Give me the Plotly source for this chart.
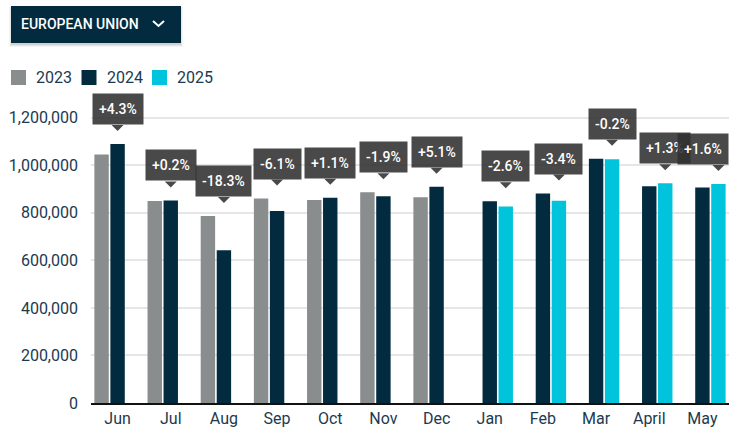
import plotly.graph_objects as go

months = ["Jun", "Jul", "Aug", "Sep", "Oct", "Nov", "Dec", "Jan", "Feb", "Mar", "April", "May"]
v2023 = [1045000, 850000, 787000, 860000, 854000, 887000, 866000, None, None, None, None, None]
v2024 = [1090000, 852000, 643000, 808000, 864000, 870000, 910000, 849000, 881000, 1028000, 912000, 907000]
v2025 = [None, None, None, None, None, None, None, 827000, 851000, 1026000, 924000, 921000]
changes = ["+4.3%", "+0.2%", "-18.3%", "-6.1%", "+1.1%", "-1.9%", "+5.1%",
           "-2.6%", "-3.4%", "-0.2%", "+1.3%", "+1.6%"]
series_names = ["2023", "2024", "2025"]
colors = ["#898d8e", "#022b40", "#00c3dc"]
title_text = "EUROPEAN UNION"

W, H = 737, 436
L, R, T, B = 91, 8, 94, 33
PW, PH = W - L - R, H - T - B
BARGAP = 0.097

def px(x):
    return (x - L) / PW

def py(y):
    return (H - B - y) / PH

TXT = "#1b3a50"
BOX = "rgba(48,48,48,0.88)"

fig = go.Figure()
for name, vals, col in zip(series_names, [v2023, v2024, v2025], colors):
    fig.add_trace(go.Bar(x=months, y=vals, name=name, marker_color=col,
                         marker_line_width=0, showlegend=False))

step = PW / len(months)
slot = step * (1 - BARGAP) / len(series_names)
shapes = []
annotations = []
for i, (m, a, b, c, lab) in enumerate(zip(months, v2023, v2024, v2025, changes)):
    top = max(v for v in (a, b, c) if v is not None)
    dx = slot if c is not None else 0  # label sits over the latest year's bar
    shapes.append(dict(type="path", xref="x", yref="y", xsizemode="pixel", ysizemode="pixel",
                       xanchor=m, yanchor=top,
                       path=f"M{dx-6:.2f},19 L{dx+6:.2f},19 L{dx:.2f},13 Z",
                       fillcolor=BOX, line=dict(width=0), layer="above"))
    ann = dict(x=m, y=top, xref="x", yref="y", text=lab, showarrow=False,
               yanchor="bottom", yshift=19, xshift=dx, bgcolor=BOX, borderpad=6, height=18,
               font=dict(family="Roboto", size=14, color="white", weight=500))
    half_w = 26
    if (i + 0.5) * step + dx + half_w > PW:  # keep the box inside the plot, like a tooltip
        ann.update(x=1, xref="paper", xanchor="right", xshift=0)
    annotations.append(ann)

# legend (drawn as shapes + text)
lx = 11
for name, col in zip(series_names, colors):
    shapes.append(dict(type="rect", xref="paper", yref="paper", x0=px(lx), x1=px(lx + 15),
                       y0=py(85), y1=py(70), fillcolor=col, line=dict(width=0)))
    annotations.append(dict(x=px(lx + 23), y=py(77.5), xref="paper", yref="paper", text=name,
                            showarrow=False, xanchor="left", yanchor="middle",
                            font=dict(family="Roboto", size=16, color=TXT)))
    lx += 70.5

# header button
for i, a in enumerate([0.04, 0.06, 0.09]):
    g = 3 - i
    shapes.append(dict(type="rect", xref="paper", yref="paper",
                       x0=px(11 - g + 1), x1=px(181 + g - 1), y0=py(43 + g + 1), y1=py(6 + 1),
                       fillcolor=f"rgba(0,0,0,{a})", line=dict(width=0), layer="above"))
shapes.append(dict(type="rect", xref="paper", yref="paper", x0=px(11), x1=px(181),
                   y0=py(43), y1=py(6), fillcolor="#022b40", line=dict(width=0), layer="above"))
shapes.append(dict(type="path", xref="paper", yref="paper",
                   path=f"M{px(153)},{py(21)} L{px(158.5)},{py(26)} L{px(164)},{py(21)}",
                   line=dict(color="white", width=2), layer="above"))
annotations.append(dict(x=px(19), y=py(24.5), xref="paper", yref="paper", text=title_text,
                        showarrow=False, xanchor="left", yanchor="middle",
                        font=dict(family="Roboto", size=14, color="white", weight=500)))

fig.update_layout(
    width=W, height=H, margin=dict(l=L, r=R, t=T, b=B, autoexpand=False),
    paper_bgcolor="white", plot_bgcolor="white",
    barmode="group", bargap=BARGAP, bargroupgap=0.1,
    font=dict(family="Roboto", color=TXT, size=16),
    showlegend=False,
    xaxis=dict(type="category", range=[-0.5, len(months) - 0.5], autorange=False,
               showgrid=False, showline=True, linecolor="#111111",
               linewidth=2, ticks="", tickfont=dict(size=16, color=TXT)),
    yaxis=dict(range=[0, 1300000], tickvals=[0, 200000, 400000, 600000, 800000, 1000000, 1200000],
               tickformat=",d", showgrid=True, gridcolor="#e6e6e6", gridwidth=1.5,
               zeroline=False, ticks="", ticklabelstandoff=12, tickfont=dict(size=16, color=TXT)),
    shapes=shapes, annotations=annotations,
)

fig.write_html("out.html", config={"displayModeBar": False},
               post_script="document.body.style.margin='0';document.body.style.overflow='hidden';")
